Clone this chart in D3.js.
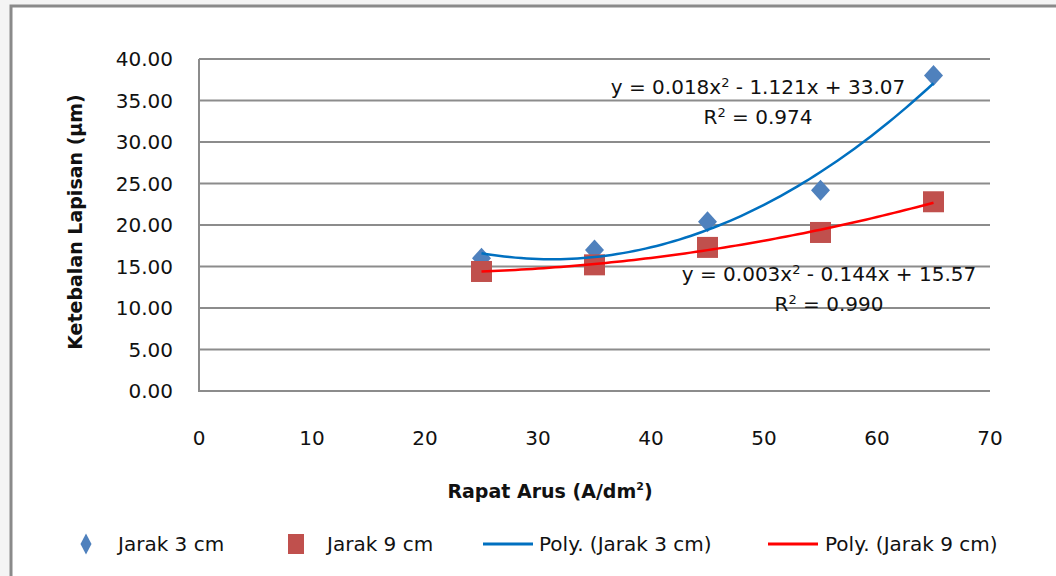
<!DOCTYPE html>
<html>
<head>
<meta charset="utf-8">
<script src="https://cdn.jsdelivr.net/npm/d3@7"></script>
<style>
  body { margin: 0; background: #f4f4f4; overflow: hidden; }
  text { font-family: "DejaVu Sans", "Liberation Sans", sans-serif; fill: #111; }
</style>
</head>
<body>
<script>
// data
let rapatArus = [25, 35, 45, 55, 65]
let jarak3 = [16.0, 17.0, 20.4, 24.2, 38.0]
let jarak9 = [14.4, 15.2, 17.3, 19.1, 22.8]
let yTicks = [0, 5, 10, 15, 20, 25, 30, 35, 40]
let xTicks = [0, 10, 20, 30, 40, 50, 60, 70]
let eq3 = ["y = 0.018x", "2", " - 1.121x + 33.07", "0.974"]
let eq9 = ["y = 0.003x", "2", " - 0.144x + 15.57", "0.990"]
let legendNames = ["Jarak 3 cm", "Jarak 9 cm", "Poly. (Jarak 3 cm)", "Poly. (Jarak 9 cm)"]

let width = 1056
let height = 576

let svg = d3.select('body')
  .append('svg')
  .attr('width', width)
  .attr('height', height)

// chart frame
svg.append('rect')
  .attr('x', 11).attr('y', 6)
  .attr('width', 1100).attr('height', 620)
  .attr('fill', 'white')
  .attr('stroke', '#8a8a8a')
  .attr('stroke-width', 3)

let scaleX = d3.scaleLinear().domain([0, 70]).range([199, 990])
let scaleY = d3.scaleLinear().domain([0, 40]).range([391, 59])

// grid
svg.append('g').selectAll('line')
  .data(yTicks.filter(d => d > 0))
  .enter()
  .append('line')
  .attr('x1', scaleX(0)).attr('x2', scaleX(70))
  .attr('y1', d => scaleY(d)).attr('y2', d => scaleY(d))
  .attr('stroke', '#8c8c8c')
  .attr('stroke-width', 2)

// left + bottom axis lines
svg.append('path')
  .attr('d', `M${scaleX(0)},${scaleY(40)}V${scaleY(0)}H${scaleX(70)}`)
  .attr('fill', 'none')
  .attr('stroke', '#8c8c8c')
  .attr('stroke-width', 2)

// tick labels
svg.append('g').selectAll('text')
  .data(yTicks)
  .enter()
  .append('text')
  .attr('x', 173)
  .attr('y', d => scaleY(d) + 7)
  .attr('text-anchor', 'end')
  .style('font-size', '20px')
  .text(d => d.toFixed(2))

svg.append('g').selectAll('text')
  .data(xTicks)
  .enter()
  .append('text')
  .attr('x', d => scaleX(d))
  .attr('y', 445)
  .attr('text-anchor', 'middle')
  .style('font-size', '20px')
  .text(d => d)

// axis titles
let xt = svg.append('text')
  .attr('x', 550).attr('y', 498)
  .attr('text-anchor', 'middle')
  .style('font-size', '19px')
  .style('font-weight', 'bold')
xt.append('tspan').text('Rapat Arus (A/dm')
xt.append('tspan').text('2').style('font-size', '11px').attr('dy', -8)
xt.append('tspan').text(')').attr('dy', 8)

svg.append('text')
  .attr('transform', 'translate(82,222) rotate(-90)')
  .attr('text-anchor', 'middle')
  .style('font-size', '19px')
  .style('font-weight', 'bold')
  .text('Ketebalan Lapisan (µm)')

// least squares quadratic fit
function polyFit(xs, ys) {
  let s = [0, 0, 0, 0, 0], t = [0, 0, 0]
  for (let i = 0; i < xs.length; i++) {
    let p = 1
    for (let k = 0; k < 5; k++) { s[k] += p; if (k < 3) t[k] += p * ys[i]; p *= xs[i] }
  }
  let m = [[s[0], s[1], s[2], t[0]], [s[1], s[2], s[3], t[1]], [s[2], s[3], s[4], t[2]]]
  for (let i = 0; i < 3; i++) {
    for (let j = i + 1; j < 3; j++) {
      let f = m[j][i] / m[i][i]
      for (let k = i; k < 4; k++) m[j][k] -= f * m[i][k]
    }
  }
  let c = [0, 0, 0]
  for (let i = 2; i >= 0; i--) {
    let v = m[i][3]
    for (let k = i + 1; k < 3; k++) v -= m[i][k] * c[k]
    c[i] = v / m[i][i]
  }
  return x => c[0] + c[1] * x + c[2] * x * x
}

let line = d3.line().x(d => scaleX(d[0])).y(d => scaleY(d[1]))

function trend(ys, color) {
  let f = polyFit(rapatArus, ys)
  let pts = d3.range(25, 65.01, 0.5).map(x => [x, f(x)])
  svg.append('path')
    .datum(pts)
    .attr('d', line)
    .attr('fill', 'none')
    .attr('stroke', color)
    .attr('stroke-width', 2.5)
}

function diamond(w, h) {
  return `M0,${-h / 2}L${w / 2},0L0,${h / 2}L${-w / 2},0Z`
}

// markers
svg.append('g').selectAll('path')
  .data(rapatArus.map((x, i) => [x, jarak3[i]]))
  .enter()
  .append('path')
  .attr('d', diamond(19, 21))
  .attr('transform', d => `translate(${scaleX(d[0])},${scaleY(d[1])})`)
  .attr('fill', '#4f81bd')

svg.append('g').selectAll('rect')
  .data(rapatArus.map((x, i) => [x, jarak9[i]]))
  .enter()
  .append('rect')
  .attr('x', d => scaleX(d[0]) - 10.5)
  .attr('y', d => scaleY(d[1]) - 10.5)
  .attr('width', 21).attr('height', 21)
  .attr('fill', '#c0504d')

trend(jarak3, '#0070c0')
trend(jarak9, '#ff0000')

// equation labels
function eqLabel(eq, cx, cy) {
  let t = svg.append('text')
    .attr('x', cx).attr('y', cy)
    .attr('text-anchor', 'middle')
    .style('font-size', '20px')
  t.append('tspan').text(eq[0])
  t.append('tspan').text(eq[1]).style('font-size', '13px').attr('dy', -7)
  t.append('tspan').text(eq[2]).attr('dy', 7)
  let r = svg.append('text')
    .attr('x', cx).attr('y', cy + 30)
    .attr('text-anchor', 'middle')
    .style('font-size', '20px')
  r.append('tspan').text('R')
  r.append('tspan').text('2').style('font-size', '13px').attr('dy', -7)
  r.append('tspan').text(' = ' + eq[3]).attr('dy', 7)
}
eqLabel(eq3, 758, 94)
eqLabel(eq9, 829, 281)

// legend
let legend = svg.append('g').attr('class', 'legend')
let legX = [86, 296, 483, 768]
let textX = [118, 327, 539, 825]
let ly = 544

legend.append('path')
  .attr('d', diamond(11, 21))
  .attr('transform', `translate(${legX[0]},${ly})`)
  .attr('fill', '#4f81bd')
legend.append('rect')
  .attr('x', legX[1] - 8).attr('y', ly - 10)
  .attr('width', 16).attr('height', 20)
  .attr('fill', '#c0504d')
legend.append('line')
  .attr('x1', legX[2]).attr('x2', legX[2] + 50)
  .attr('y1', ly).attr('y2', ly)
  .attr('stroke', '#0070c0').attr('stroke-width', 3)
legend.append('line')
  .attr('x1', legX[3]).attr('x2', legX[3] + 50)
  .attr('y1', ly).attr('y2', ly)
  .attr('stroke', '#ff0000').attr('stroke-width', 3)

legend.selectAll('text.name')
  .data(legendNames)
  .enter()
  .append('text')
  .attr('class', 'name')
  .attr('x', (d, i) => textX[i])
  .attr('y', ly + 7)
  .style('font-size', '20px')
  .text(d => d)
</script>
</body>
</html>
